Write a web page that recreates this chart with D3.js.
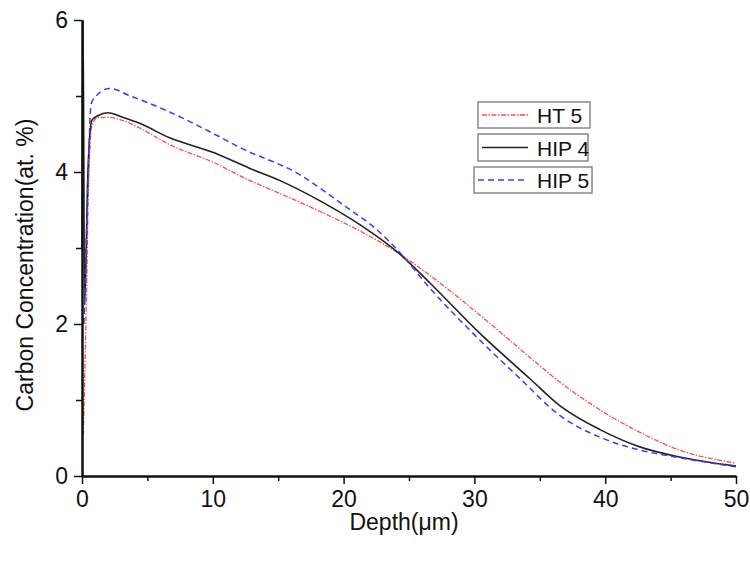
<!DOCTYPE html>
<html><head><meta charset="utf-8">
<script src="https://cdn.jsdelivr.net/npm/d3@7"></script>
<style>body{margin:0;background:#fff}svg{display:block}text{font-family:Arial,"Liberation Sans",sans-serif}</style>
</head><body><svg id="c" width="750" height="561"></svg>
<script>
const xTicks = [0,10,20,30,40,50];
const yTicks = [0,2,4,6];
const seriesNames = ["HT 5","HIP 4","HIP 5"];
const ht5 = [[0.1,0.54],[0.3,2.0],[0.5,3.8],[0.75,4.6],[1.2,4.72],[2,4.72],[3.1,4.68],[4.4,4.58],[6.7,4.36],[10,4.13],[12.8,3.89],[15.1,3.72],[18.2,3.48],[21.3,3.22],[24.3,2.92],[26.6,2.64],[30.4,2.12],[34.25,1.56],[36.5,1.24],[39.6,0.87],[42.7,0.57],[45.7,0.34],[50,0.17]];
const hip4 = [[0,3.0],[0.08,6.0],[0.2,2.25],[0.45,4.0],[0.75,4.68],[1.2,4.74],[2,4.78],[3.1,4.72],[4.4,4.64],[6.7,4.45],[10,4.26],[12.8,4.05],[15.1,3.89],[18.2,3.62],[21.3,3.3],[24.3,2.92],[26.6,2.54],[30.4,1.88],[34.25,1.28],[36.5,0.93],[39.6,0.61],[42.7,0.38],[45.7,0.25],[50,0.13]];
const hip5 = [[0.15,2.0],[0.4,3.5],[0.7,4.9],[1.2,5.02],[2.1,5.1],[3.7,5.0],[6.7,4.79],[10,4.51],[12.1,4.32],[16.7,3.96],[19.7,3.6],[22.8,3.2],[24.3,2.94],[26.6,2.47],[30.4,1.79],[33.5,1.28],[36.5,0.80],[39.6,0.51],[42.7,0.34],[45.7,0.24],[50,0.12]];

const svg = d3.select("#c");
const x = d3.scaleLinear().domain([0,50]).range([82,736]);
const y = d3.scaleLinear().domain([0,6]).range([476,20]);

const styles = [
  {data:ht5, color:"#ff4d4d", width:1.3, dash:"5,1.5,1.5,1.5"},
  {data:hip4, color:"#222", width:1.6, dash:null},
  {data:hip5, color:"#3b3bff", width:1.5, dash:"6,4"}
];
const line = d3.line().x(d=>x(d[0])).y(d=>y(d[1])).curve(d3.curveMonotoneX);
styles.forEach(s=>{
  svg.append("path").attr("d",line(s.data)).attr("fill","none")
    .attr("stroke",s.color).attr("stroke-width",s.width)
    .attr("stroke-dasharray",s.dash);
});

const fmt = d3.format("d");
const xAxis = d3.axisBottom(x).tickValues(xTicks).tickFormat(fmt).tickSize(8).tickSizeOuter(0).tickPadding(7);
const xMinor = d3.axisBottom(x).tickValues([5,15,25,35,45]).tickSize(5).tickSizeOuter(0).tickFormat("");
const yAxis = d3.axisLeft(y).tickValues(yTicks).tickFormat(fmt).tickSize(8).tickSizeOuter(0).tickPadding(6);
const yMinor = d3.axisLeft(y).tickValues([1,3,5]).tickSize(6).tickSizeOuter(0).tickFormat("");
function style(g){
  g.select(".domain").attr("stroke","#111").attr("stroke-width",2);
  g.selectAll(".tick line").attr("stroke","#111").attr("stroke-width",1.5);
  g.selectAll("text").attr("font-size",23).attr("fill","#111");
}
[xAxis,xMinor].forEach(a=>style(svg.append("g").attr("transform","translate(0,476)").call(a)));
[yAxis,yMinor].forEach(a=>style(svg.append("g").attr("transform","translate(82,0)").call(a)));

svg.append("text").attr("x",404).attr("y",530).attr("text-anchor","middle")
  .attr("font-size",23).attr("fill","#111").text("Depth(\u03bcm)");
svg.append("text").attr("transform","translate(33,265) rotate(-90)").attr("text-anchor","middle")
  .attr("font-size",23).attr("fill","#111").text("Carbon Concentration(at. %)");

const boxes = [{x:478,y:102,w:112,h:26},{x:478,y:134,w:110,h:27},{x:474,y:167,w:118,h:26}];
seriesNames.forEach((n,i)=>{
  const b = boxes[i], s = styles[i];
  svg.append("rect").attr("x",b.x).attr("y",b.y).attr("width",b.w).attr("height",b.h)
    .attr("fill","#fff").attr("stroke","#888").attr("stroke-width",1.5);
  svg.append("line").attr("x1",b.x+4).attr("x2",b.x+50).attr("y1",b.y+b.h/2).attr("y2",b.y+b.h/2)
    .attr("stroke",s.color).attr("stroke-width",s.width).attr("stroke-dasharray",s.dash);
  svg.append("text").attr("x",537).attr("y",b.y+b.h/2+8).attr("font-size",21).attr("fill","#111").text(n);
});
</script></body></html>
